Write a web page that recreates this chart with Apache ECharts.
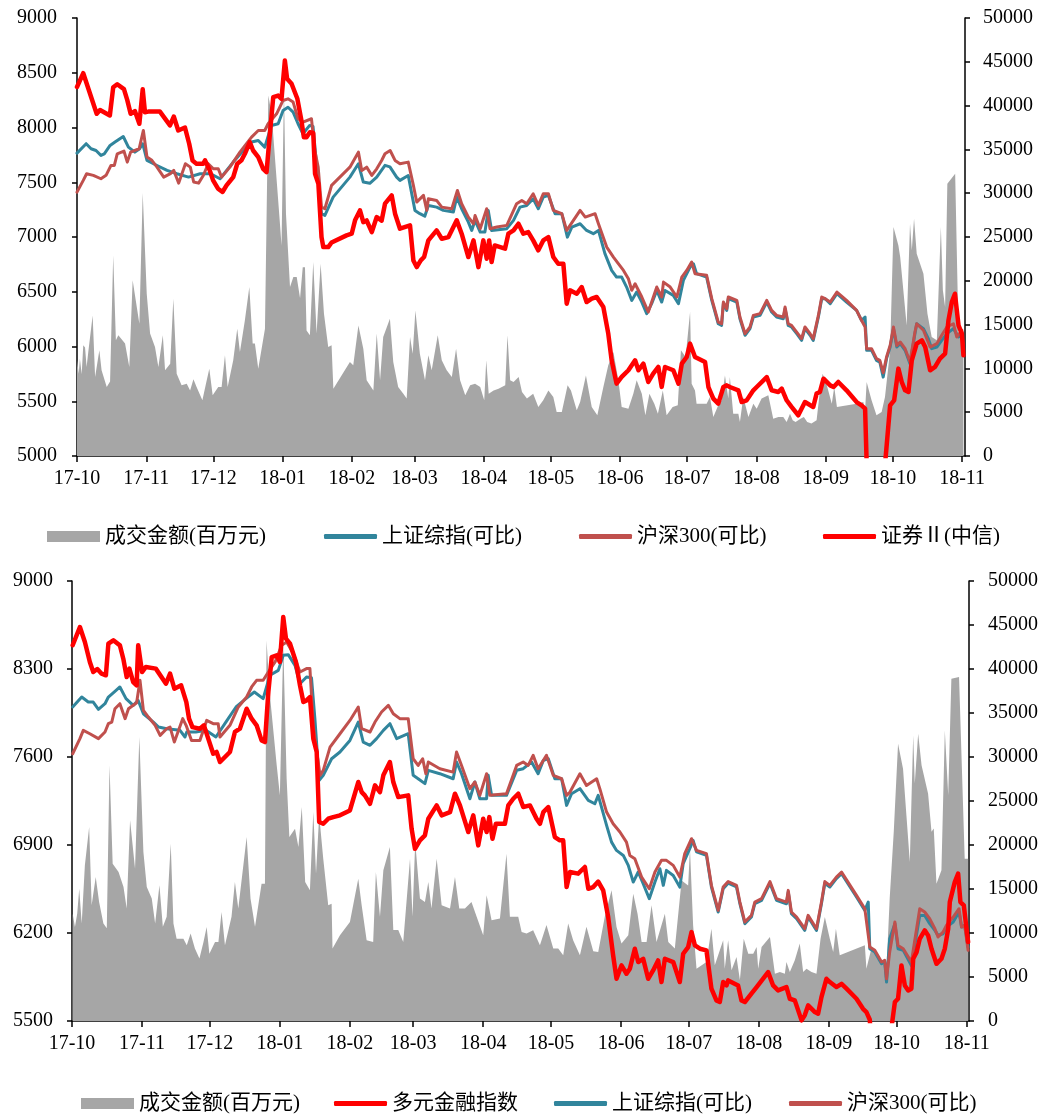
<!DOCTYPE html>
<html><head><meta charset="utf-8">
<script src="https://cdn.jsdelivr.net/npm/echarts@6/dist/echarts.min.js"></script>
<style>html,body{margin:0;padding:0;background:#fff}#c{width:1055px;height:1115px}</style>
</head><body><div id="c"></div>
<script>
// x = calendar days since 2017-10-01
const monthLabels = ['17-10','17-11','17-12','18-01','18-02','18-03','18-04','18-05','18-06','18-07','18-08','18-09','18-10','18-11'];

const topVolume = [[0,10920],[0.8,9400],[1.3,11110],[2.1,9320],[2.8,12630],[3.6,12400],[4.3,10160],[5.1,12000],[7,16050],[8.1,9010],[10,12060],[11,9780],[13.3,7870],[14.8,8500],[16.2,22900],[17.4,13200],[18.5,13770],[21.5,12830],[23.4,10160],[24.9,20050],[27.9,15110],[29.4,30010],[31.2,18530],[32.7,13970],[34.9,12440],[36.4,10160],[38.4,13770],[39.4,9780],[41.7,10540],[43.1,17960],[44.6,9400],[46.8,8070],[49.1,8260],[50.6,7490],[52.1,8760],[53.5,7870],[56.1,6360],[57.7,8260],[59.2,9970],[60.7,6930],[63.2,7870],[64.7,7870],[66.2,11490],[67.4,7870],[69.9,10920],[71.7,14540],[72.9,11870],[75.1,15480],[77.1,19280],[78.6,12830],[79.6,12830],[81.1,9970],[84.1,14540],[85.6,41160],[87.1,39000],[90.8,26520],[91.5,24000],[92.6,41730],[93.5,27660],[95.3,19280],[96.8,20420],[98.3,20420],[99.8,18000],[101,21560],[102,21560],[102.7,14340],[104.2,13770],[105.7,22140],[107.2,13970],[109,21950],[110.5,16240],[112.4,12440],[113.9,12630],[114.7,7690],[122.1,10730],[123.6,10350],[125.9,14910],[128.1,12250],[129.6,8640],[132.6,7490],[134.1,13970],[135.6,8640],[137,13580],[140,15680],[141.5,10730],[143.7,7870],[146,7110],[147.5,6550],[149,13580],[150.2,11680],[151.4,16620],[153.4,11680],[155.7,8640],[157.2,11500],[158.7,9780],[161.4,13770],[163.2,10920],[165.4,9780],[167.7,9010],[169.6,12250],[171.4,8640],[173.7,6930],[175.9,8070],[178.1,8260],[180.4,7870],[182.2,6360],[183.1,10920],[184.2,7110],[186.4,7490],[188.6,7680],[191.6,8070],[192.6,13770],[193.8,8640],[195.3,8450],[197.6,9010],[199.1,7300],[201.3,6550],[204.1,7110],[206.4,5590],[208.6,6360],[210.9,7490],[213.1,6740],[214.6,5020],[216.9,5020],[219.5,8070],[221,7490],[223.6,5210],[225.1,6160],[227.7,9200],[230.3,5590],[232.8,4640],[235.5,7870],[237.7,10350],[240,11870],[242.2,8640],[243.7,5590],[246.7,5400],[248.9,7110],[250.4,8640],[252.7,7110],[254.3,4640],[256.1,7110],[258.3,5970],[259.9,4830],[262.1,7490],[263.8,4640],[266.5,5590],[268.8,5780],[270.2,12060],[272.3,11300],[274.3,16430],[275,8260],[276.5,7490],[277.2,5970],[281.7,5970],[283.2,6740],[284.7,4450],[286.9,5780],[288.4,6360],[289.9,9200],[291.4,6550],[292.1,9010],[293.6,4830],[295.9,4830],[296.6,3880],[298.1,6740],[300.4,4450],[302.6,5970],[304.1,5400],[306.3,6550],[309.3,6930],[311.5,4260],[313.8,4450],[316,4450],[317.5,3880],[319,4830],[320.2,4070],[321.5,3880],[323.7,4260],[325.2,4450],[326.7,3880],[328.6,3700],[330.9,4070],[332.4,7490],[333.6,9400],[335.3,8260],[337.7,5970],[338.8,7870],[340,5590],[348.8,5970],[351.8,6160],[352.6,5210],[353.3,8440],[355.5,6360],[357.7,4640],[360,5020],[361.5,6740],[363.8,12060],[365.3,26130],[367.5,24040],[368.3,22710],[371.2,14910],[372.7,26520],[373.5,23500],[374.5,27090],[375.7,23090],[378.7,20810],[380.5,16240],[382.4,13580],[384.7,13200],[386.5,26130],[387.4,18910],[388.4,17000],[389.4,31080],[392.9,32220],[394.4,13970],[395.9,13970],[396.6,12440]];

const topSse = [[0,7766],[4.1,7852],[6.3,7806],[8.5,7790],[10.7,7745],[12.2,7760],[14.8,7836],[17,7867],[20.7,7918],[23,7821],[25.9,7775],[28,7806],[29.4,7852],[31.3,7699],[35.8,7653],[40.3,7608],[44.7,7578],[49.9,7547],[55.1,7578],[59.6,7578],[64,7532],[69.9,7684],[74.4,7790],[78.1,7867],[81.1,7882],[84,7821],[87,8019],[90,8034],[92.2,8155],[94.4,8185],[96.7,8140],[98.9,8034],[101.1,7943],[104.1,8019],[105.6,8010],[107,7699],[109.4,7213],[110.9,7198],[114.6,7364],[122.1,7547],[125.9,7669],[128.1,7502],[131,7490],[134.1,7547],[135.6,7590],[137.8,7654],[140,7640],[143,7547],[144.5,7517],[148.2,7562],[151.2,7243],[153.4,7213],[155.6,7190],[157.2,7288],[160.9,7273],[163.9,7243],[168.4,7228],[169.9,7364],[172.1,7258],[175.1,7136],[176.6,7060],[178.1,7152],[180.4,7045],[182.5,7045],[184,7243],[185.5,7060],[192.3,7076],[195.3,7152],[198.2,7273],[201.2,7288],[204.1,7349],[206.4,7258],[208.6,7364],[210.9,7380],[213.9,7213],[216.9,7213],[219.4,6999],[221.4,7091],[225.1,7121],[228,7060],[231,7030],[233.3,7060],[236.2,6848],[239.2,6695],[241.4,6634],[243.7,6634],[245.9,6543],[248.2,6421],[250.4,6497],[252.7,6406],[254.9,6300],[257.1,6391],[259.4,6512],[261.6,6406],[263.1,6512],[266.8,6467],[269.1,6391],[271.3,6604],[274.3,6725],[275.8,6756],[277.2,6665],[281.7,6634],[284,6421],[286.9,6208],[288.4,6193],[289.2,6391],[290.7,6330],[291.4,6437],[295.2,6406],[296.6,6254],[298.9,6102],[301.1,6163],[302.6,6269],[305.6,6284],[308.6,6406],[310.8,6315],[313,6269],[316,6254],[316.8,6345],[318.2,6193],[319.7,6178],[322,6117],[324.2,6056],[325.7,6163],[328,6102],[329.4,6056],[331.7,6269],[333.2,6437],[334.7,6437],[337,6391],[340,6482],[344.3,6406],[348.8,6330],[351,6239],[352.6,6269],[353.3,5965],[355.5,5965],[357.7,5874],[359.2,5858],[360.7,5721],[362.2,5889],[363.8,5995],[365.3,6163],[366.8,5995],[368.3,6026],[370.5,5965],[372.7,5843],[374.9,6117],[375.7,6208],[378.7,6163],[380.9,6072],[382.4,5980],[384.7,5995],[386.9,6056],[389.2,6117],[392.1,6163],[394.4,6087],[395.9,6102],[396.6,5965]];

const topHs300 = [[0,7410],[2.8,7517],[4.3,7578],[7.3,7563],[10.7,7532],[13,7563],[15.2,7654],[16.7,7654],[18,7760],[21,7785],[22.5,7684],[24,7775],[27.8,7806],[29.7,7973],[31.3,7730],[33.5,7700],[35.8,7638],[38.8,7547],[41.8,7578],[43.3,7608],[45.5,7492],[48.5,7669],[50.7,7638],[52.2,7502],[54.4,7492],[56.5,7562],[58.7,7669],[61,7623],[63.2,7623],[64.7,7547],[68.4,7638],[72.9,7775],[78.1,7912],[81.1,7973],[84,7973],[85.5,8034],[89.3,8125],[92.2,8247],[94.4,8262],[96.7,8232],[98.9,8080],[101.1,8049],[104.9,8080],[106.4,7790],[107.9,7638],[109.4,7273],[110.9,7258],[113.9,7471],[122.1,7638],[125.9,7775],[127.4,7608],[129.6,7638],[131.9,7562],[134.1,7623],[136.3,7699],[137.8,7760],[140.1,7790],[142.3,7699],[144.5,7669],[148.2,7684],[150.5,7471],[152,7319],[155,7380],[156.5,7243],[157.2,7349],[160.9,7334],[163.2,7273],[167.7,7258],[170.2,7425],[172.1,7304],[175.1,7182],[177.4,7121],[178.1,7197],[180.4,7076],[183.3,7258],[184.8,7076],[187.8,7091],[192.3,7106],[196.7,7304],[199,7334],[201.2,7304],[204.1,7395],[206.4,7288],[208.6,7395],[210.9,7395],[213.1,7243],[216.9,7213],[219.1,7060],[220.6,7106],[225.1,7243],[227.4,7182],[231.8,7213],[233.3,7121],[237,6908],[240,6817],[242.2,6756],[244.5,6695],[246.7,6619],[248.2,6513],[249.7,6573],[252.7,6452],[255.6,6315],[259.4,6543],[261.6,6452],[262.4,6588],[265.4,6543],[268.4,6452],[270.6,6634],[272.8,6695],[275,6771],[276.5,6665],[281.7,6650],[284,6437],[286.9,6223],[288.4,6208],[289.2,6406],[290.7,6345],[291.4,6452],[295.2,6421],[296.6,6269],[298.9,6117],[301.1,6178],[302.6,6284],[305.6,6300],[308.6,6421],[310.8,6330],[313,6284],[316,6269],[316.8,6360],[318.2,6208],[319.7,6193],[322,6132],[324.2,6072],[325.7,6178],[328,6117],[329.4,6072],[331.7,6284],[333.2,6452],[334.7,6437],[337,6406],[340,6497],[344.3,6421],[348.8,6330],[351,6239],[352.6,6178],[353.3,5980],[355.5,5980],[357.7,5889],[359.2,5874],[360.7,5760],[362.2,5904],[363.8,6010],[365.3,6178],[366.8,6010],[368.3,6041],[370.5,5980],[372.7,5858],[374.9,6132],[375.7,6208],[378.7,6148],[381.7,5995],[384.7,6026],[386.9,6102],[389.2,6178],[392.1,6208],[393.6,6087],[395.9,6148],[396.6,5965]];

const topSecurities = [[0,8370],[2.8,8496],[8.8,8125],[10.3,8160],[14.7,8110],[16.2,8368],[18,8395],[21,8350],[22.5,8250],[24,8125],[25.9,8150],[27.9,8034],[29.4,8350],[30.4,8140],[31.9,8145],[37.1,8145],[41.6,8019],[43.3,8100],[45.3,7973],[48.3,8000],[50.2,7852],[51.7,7699],[53.5,7668],[56.5,7670],[57.3,7700],[59.4,7608],[60.9,7517],[63.1,7441],[65.1,7411],[66.9,7472],[69.9,7547],[71.7,7669],[73.6,7700],[75.1,7760],[77.3,7866],[78.8,7790],[81.1,7730],[83.3,7623],[84.8,7593],[86.3,7943],[87.8,8277],[90,8292],[91.5,8262],[93,8612],[94,8445],[96,8400],[98.6,8262],[100.4,8064],[101.5,7912],[102.7,7912],[104.2,7957],[105.7,7950],[106.5,7578],[108,7486],[109.4,6999],[110.2,6908],[112.4,6908],[113.9,6950],[120.6,7015],[122.9,7030],[124.4,7152],[126.6,7243],[128.1,7136],[129.6,7151],[131.9,7045],[134.1,7182],[136.3,7150],[137.8,7304],[140.8,7380],[142.3,7213],[144.5,7076],[149,7106],[150.5,6786],[152,6725],[153.8,6786],[155.3,6817],[157.2,6969],[160.9,7060],[163.2,6984],[166.2,6999],[169.9,7152],[172.1,7030],[175.1,6817],[177.4,6969],[179.6,6725],[181.8,6969],[183.3,6802],[184.4,6969],[185.5,6771],[186.9,6923],[191.5,6893],[193,7030],[195.3,7060],[197.5,7121],[199.7,7030],[201.9,7045],[204.1,6969],[206.4,6878],[208.6,6969],[210.9,6999],[213.1,6817],[215.3,6756],[217.6,6756],[219.1,6391],[220.6,6513],[223.6,6482],[225.8,6543],[228,6406],[230.3,6437],[232.5,6452],[235.5,6360],[237.7,6117],[239.2,5874],[241.4,5661],[243.7,5722],[246.7,5783],[249.7,5874],[251.2,5783],[253.4,5843],[255.6,5676],[257.8,5752],[260.1,5813],[261.6,5631],[263.1,5813],[266.8,5783],[269.1,5661],[270.6,5843],[272.8,5904],[274.3,6026],[276.5,5904],[281,5858],[282.5,5630],[284.7,5524],[286.9,5478],[289.2,5630],[290.7,5645],[292.1,5630],[295.9,5600],[297.4,5493],[299.6,5508],[302.6,5600],[304.1,5630],[308.6,5721],[310.8,5600],[313.8,5585],[315.3,5615],[317.5,5509],[319.7,5448],[322.7,5372],[325.7,5493],[329.4,5448],[330.9,5570],[332.4,5585],[334,5706],[337,5645],[338.5,5630],[340.6,5676],[344.3,5600],[348.8,5493],[351,5463],[352.6,5433],[353.5,4800],[361,4800],[363.8,5463],[365.6,5508],[367.5,5798],[369,5676],[370.5,5600],[372,5585],[373.5,5874],[375.7,6026],[378,6056],[379.5,5995],[381.7,5783],[383.9,5813],[386.1,5889],[388.4,5935],[389.9,6239],[391.4,6406],[392.8,6482],[394.4,6193],[395.9,6117],[396.6,5919]];

const botVolume = [[0.3,12200],[1.3,10690],[2.3,12200],[3.2,15040],[4.3,11090],[5.7,17690],[7.6,22040],[8.7,13140],[10.5,16360],[12,13530],[13.9,11090],[15.4,10530],[16.6,29050],[18,17880],[20.6,16940],[22.8,15230],[24.2,12770],[25.7,22800],[27.9,17310],[29.8,32260],[31.6,19200],[33.1,15230],[35.3,13910],[36.8,11090],[38.7,15420],[40.2,10720],[41.9,11840],[43.7,20150],[44.9,11090],[46.3,9360],[49.3,9360],[50.8,8610],[52.5,9930],[54.4,8230],[56.4,7090],[58.2,8980],[59.6,10690],[60.8,7650],[63.3,8980],[64.8,8980],[66.2,12390],[67.7,8610],[70.6,11840],[72.1,15790],[73.6,12770],[77.3,20900],[79,13910],[81,10720],[83.9,15610],[85.4,15610],[86.1,43250],[87.6,37000],[90.6,29050],[92,25640],[93.5,42870],[95,27540],[96.2,20900],[98.7,21860],[100.2,19770],[101.7,24310],[103.2,15790],[105.3,14850],[106.8,23740],[108,16740],[109.4,23370],[111.2,18450],[113.4,13140],[114.9,13330],[115.3,8230],[118.6,9740],[123,11250],[126.7,16170],[128.2,13140],[130.4,9170],[133.3,8980],[134.5,16930],[136.3,11840],[137.8,17120],[140.7,19770],[142.2,10340],[144.4,10340],[146.6,8980],[149.6,18450],[150.7,11840],[151.9,20340],[154,13910],[156.2,13530],[157.7,15790],[159.1,12770],[161.4,18450],[163.6,13140],[167.3,12770],[169.5,16360],[171.4,12770],[173.9,12770],[176.8,13530],[179.1,11840],[182,9740],[183.5,14290],[185.7,11460],[189.4,11650],[192.3,19010],[193.8,11840],[197.5,11840],[199,10120],[201.2,9930],[204.1,10310],[207.1,8610],[210,10910],[213,8230],[215.2,8230],[217.4,7460],[219.6,11090],[221.8,9170],[224.8,7460],[227.7,10720],[230.7,7940],[232.9,7840],[235.8,11840],[238.8,14850],[241,10690],[243.2,8800],[246.2,9740],[248.4,14470],[250.3,12200],[252.1,8980],[254.3,8980],[256.5,13140],[258.7,8980],[262.4,12200],[263.9,8980],[266.8,8230],[269.8,15980],[272.7,15410],[273.5,19580],[274.9,10870],[276.4,5950],[280.8,6710],[283,10490],[284.5,6330],[288.2,9170],[288.9,5950],[290.4,9170],[291.9,5760],[294.1,7270],[295.6,4660],[297.3,9360],[299.3,7650],[301.5,7650],[303,8420],[303.7,5950],[305.2,8420],[308.9,9550],[311.1,5380],[313.3,5570],[315.5,5380],[316.2,6710],[317.7,5570],[319.9,6900],[322.1,8800],[323.6,5570],[325.1,5950],[327.3,5570],[329.5,5380],[331.3,9360],[333.2,11820],[335.4,9360],[336.9,7840],[338.1,10490],[339.8,7460],[350.9,8610],[351.6,5950],[353.8,8230],[357.5,7080],[360.5,5950],[361.9,13930],[363.7,21500],[365.6,31510],[367.8,28670],[369.3,23370],[370.8,18060],[372.3,32450],[373,27000],[374.5,32640],[376,29050],[378.9,25830],[380.4,21500],[381.4,21870],[382.6,15610],[384.8,17120],[386.3,33020],[387.8,25640],[389.2,38900],[392.6,39090],[395.1,18450],[396.6,18450]];

const botSse = [[0.3,7998],[4.3,8077],[7.2,8037],[9.4,8037],[11.7,7979],[14.6,8024],[16.1,8077],[19,8122],[21.2,8157],[23.9,8064],[27.1,8011],[29.3,8050],[31.6,7944],[36,7878],[38.3,7838],[41.9,7825],[47.8,7812],[50,7759],[50.8,7799],[54.8,7799],[59.3,7812],[63.7,7759],[68.1,7878],[72.6,7998],[77,8064],[80.7,8117],[84.6,8064],[87.6,8250],[91.3,8289],[93.5,8409],[95.7,8414],[98.7,8329],[100.9,8183],[103.8,8236],[106,8230],[107.5,7905],[109.4,7414],[111.2,7454],[114.9,7586],[118.6,7640],[123,7732],[126.7,7878],[128.9,7719],[131.9,7693],[134.8,7746],[137.8,7812],[140.7,7865],[143.7,7746],[148.8,7785],[151,7454],[153.2,7427],[156.2,7388],[157.7,7494],[162.8,7467],[168.7,7427],[170.2,7560],[172.4,7467],[176.1,7268],[178.3,7401],[180.5,7268],[183.5,7268],[184.2,7454],[185.7,7295],[192.3,7295],[196.8,7494],[199.7,7507],[203.4,7560],[206.3,7467],[208.6,7573],[210.8,7586],[213.7,7427],[216.7,7427],[218.9,7215],[221.1,7308],[224.8,7348],[228.5,7255],[231.4,7228],[232.9,7295],[236.6,7056],[238.8,6923],[241,6857],[244,6817],[246.2,6738],[248.4,6605],[250.6,6685],[252.8,6592],[255.5,6473],[258,6605],[260.2,6711],[261.7,6579],[263.1,6698],[266.1,6658],[269,6565],[270.5,6751],[273.4,6870],[274.9,6937],[276.4,6845],[280.8,6818],[283,6566],[286,6367],[288.2,6552],[290.4,6596],[294.1,6566],[295.6,6433],[297.8,6274],[300.7,6327],[302.2,6433],[305.2,6460],[308.9,6596],[311.8,6460],[316.2,6433],[317,6526],[318.4,6354],[320.7,6314],[324.3,6221],[325.8,6327],[329.5,6221],[331.7,6433],[333.2,6596],[335.4,6566],[338.3,6632],[340.6,6672],[347.2,6486],[350.9,6380],[352.4,6446],[353.1,6075],[355.3,6049],[358.3,5956],[359.7,5969],[360.5,5810],[361.9,6154],[364.2,6274],[365.6,6075],[367.9,6062],[371.5,5942],[375.2,6340],[377.4,6340],[379.6,6274],[381.9,6221],[383.3,6181],[385.5,6194],[387,6247],[390,6287],[392.6,6367],[393.7,6247],[395.1,6260],[396.6,6088]];

const botHs300 = [[0.3,7626],[3.5,7746],[5,7812],[7.9,7785],[11.7,7746],[14.6,7799],[16.1,7865],[17.6,7878],[19,7984],[21.2,8024],[23.5,7905],[25,7984],[28.6,8032],[30.1,8210],[31.6,7971],[33.8,7918],[36.8,7852],[39,7772],[41.9,7825],[43.4,7838],[45.3,7719],[49,7905],[50.5,7852],[52.9,7732],[56.6,7732],[59.6,7891],[62.5,7865],[64.7,7865],[65.5,7759],[69.9,7852],[73.6,7998],[77.3,8077],[79.5,8157],[81.7,8210],[84.6,8210],[86.9,8276],[89.9,8356],[92.8,8488],[95,8515],[98,8422],[100.9,8276],[103.8,8303],[105.3,8303],[106.8,7852],[108.3,7640],[109.8,7454],[111.2,7494],[114.2,7679],[118.6,7785],[123,7891],[126.7,7998],[128.2,7825],[131.9,7799],[134.1,7878],[137,7958],[140,8011],[142.2,7944],[145.1,7905],[148.8,7905],[151,7586],[153.2,7533],[155.2,7586],[156.6,7467],[157.7,7560],[162.8,7507],[168.7,7480],[170.2,7640],[172.4,7533],[176.1,7348],[178.3,7401],[180.5,7295],[183.5,7467],[184.9,7295],[192.3,7308],[196.8,7533],[199.7,7560],[201.9,7533],[204.1,7613],[206.3,7507],[210,7613],[213,7454],[216.7,7427],[218.9,7295],[220.4,7321],[224.8,7467],[227.7,7374],[232.2,7427],[233.6,7348],[236.6,7162],[239.5,7069],[242.5,7003],[245.4,6923],[246.9,6817],[249.1,6791],[252.1,6645],[255.5,6552],[258,6685],[260.9,6778],[263.1,6778],[266.1,6738],[269,6645],[271.2,6831],[274.2,6950],[276.4,6857],[280.8,6831],[283,6579],[286,6380],[288.2,6565],[290.4,6609],[294.1,6579],[295.6,6446],[297.8,6287],[300.7,6340],[302.2,6446],[305.2,6473],[308.9,6609],[311.8,6473],[316.2,6446],[317,6539],[318.4,6367],[320.7,6327],[324.3,6234],[325.8,6340],[329.5,6234],[331.7,6446],[333.2,6609],[335.4,6579],[338.3,6645],[340.6,6685],[347.2,6499],[350.9,6393],[353.1,6088],[355.3,6062],[358.3,5969],[359.7,5982],[360.5,5836],[361.9,6048],[364.2,6287],[365.6,6101],[367.9,6075],[371.5,5969],[375.2,6393],[377.4,6367],[379.6,6314],[381.9,6234],[383.3,6168],[385.5,6207],[387,6260],[390,6327],[392.6,6393],[393.7,6247],[395.1,6260],[396.6,6062]];

const botDiversified = [[0.3,8489],[3.5,8634],[5.7,8515],[7.9,8356],[9.4,8276],[11.2,8300],[13.1,8263],[15,8250],[16.1,8501],[18.3,8528],[21.2,8488],[22.7,8382],[24.2,8236],[25.4,8303],[27.1,8196],[28.6,8170],[29.3,8488],[30.1,8475],[31,8276],[32.7,8316],[37.1,8303],[41.6,8183],[43.4,8263],[45.3,8143],[48.3,8170],[50.6,8037],[51.8,7905],[53.3,7838],[56.6,7825],[58.4,7852],[60.3,7746],[62.5,7626],[64,7640],[65.5,7560],[69.9,7640],[72.1,7799],[74.3,7825],[77.3,7984],[79.5,7905],[81.7,7852],[83.9,7732],[85.4,7719],[86.9,8117],[88.4,8395],[90.6,8409],[92,8356],[93.5,8714],[94.7,8541],[96.5,8501],[99.1,8356],[100.9,8170],[102.4,8037],[103.8,8050],[105.3,8077],[106.8,7746],[108.3,7640],[109.4,7083],[111.2,7069],[113.4,7109],[115.6,7122],[118.6,7136],[123,7175],[126.7,7401],[128.2,7321],[129.6,7295],[131.9,7228],[134.1,7374],[136.3,7321],[137.8,7454],[140.7,7560],[142.2,7401],[144.4,7281],[148.8,7295],[150.3,7030],[151.8,6870],[154,6937],[156.2,6977],[157.7,7109],[161.4,7215],[163.6,7136],[167.3,7162],[169.5,7308],[171.7,7215],[175.4,7003],[177.6,7136],[179.8,6897],[182,7109],[183.5,7003],[184.7,7122],[186.1,6950],[187.6,7069],[191.6,7069],[193.1,7215],[195.3,7268],[197.5,7308],[199.7,7202],[202.7,7215],[205.6,7109],[207.1,7069],[208.6,7162],[210.8,7202],[213.7,6963],[215.9,6937],[217.4,6937],[218.9,6565],[220.4,6685],[224,6672],[227,6725],[228.5,6552],[230.7,6565],[232.9,6609],[235.1,6539],[237.3,6327],[239.5,6022],[241,5836],[243.2,5942],[245.4,5876],[246.9,5916],[249.1,6075],[250.6,5969],[252.8,5995],[255,5836],[257.2,5902],[259.4,5982],[260.9,5810],[262.4,5995],[266.1,5969],[269,5810],[270.5,6035],[272.7,6088],[274.2,6207],[275.7,6101],[277.9,6075],[280.8,6062],[283,5757],[285.2,5664],[286.7,5651],[288.2,5810],[289.7,5783],[290.4,5823],[294.8,5783],[296.3,5664],[297.8,5651],[300.7,5717],[303,5770],[308.1,5889],[310.3,5783],[312.5,5743],[316.2,5770],[317.7,5677],[319.9,5664],[322.9,5505],[324.3,5545],[325.8,5624],[328.8,5571],[330.2,5558],[331.7,5690],[333.9,5836],[335.4,5810],[338.3,5770],[340.6,5796],[342.8,5757],[347.2,5677],[350.1,5597],[351.6,5571],[352.4,5558],[353.1,5510],[353.8,5300],[361.6,5300],[364.2,5651],[365.6,5677],[367.1,5942],[368.6,5783],[370.1,5743],[371.5,5757],[372.3,5995],[373.8,6048],[375.2,6154],[377.4,6221],[378.9,6181],[380.4,6075],[382.6,5955],[384.8,5995],[386.3,6075],[387.8,6234],[388.5,6446],[390.7,6605],[392.2,6672],[393.2,6446],[394.7,6420],[395.9,6234],[396.6,6128]];

const BASE = Date.UTC(2017, 9, 1);
const tickDays = monthLabels.map(s => { const p = s.split('-').map(Number); return Math.round((Date.UTC(2000 + p[0], p[1] - 1, 1) - BASE) / 86400000); });

const FONT = "'Liberation Serif','Noto Sans CJK SC',serif";
const GRAY = '#A6A6A6', BLUE = '#31859C', PINK = '#C0504D', RED = '#FF0000';

function xAx(grid, max) {
  return {
    type: 'value', gridIndex: grid, min: 0, max: max,
    axisLine: { show: true, onZero: false, lineStyle: { color: '#000', width: 1.5 } },
    axisTick: { show: true, customValues: tickDays, length: 6, lineStyle: { color: '#000', width: 1.5 } },
    axisLabel: { show: true, customValues: tickDays, color: '#000', fontSize: 20, fontFamily: FONT, margin: 13,
      formatter: v => { const i = tickDays.indexOf(Math.round(v)); return i < 0 ? '' : monthLabels[i]; } },
    splitLine: { show: false }
  };
}
function yAx(grid, pos, min, max, interval, margin) {
  return {
    type: 'value', gridIndex: grid, position: pos, min, max, interval,
    axisLine: { show: true, lineStyle: { color: '#000', width: 1.5 } },
    axisTick: { show: true, length: 5, lineStyle: { color: '#000', width: 1.5 } },
    axisLabel: { color: '#000', fontSize: 20, fontFamily: FONT, margin, formatter: v => String(v) },
    splitLine: { show: false }
  };
}
function area(name, data, grid) {
  return { name, type: 'line', xAxisIndex: grid, yAxisIndex: grid * 2 + 1, data, symbol: 'none', showSymbol: false,
    color: GRAY, itemStyle: { color: GRAY }, lineStyle: { width: 0, color: GRAY },
    areaStyle: { color: GRAY, opacity: 1 }, z: 1, silent: true };
}
function line(name, data, grid, color, width, z) {
  return { name, type: 'line', xAxisIndex: grid, yAxisIndex: grid * 2, data, symbol: 'none', showSymbol: false,
    color, itemStyle: { color }, lineStyle: { color, width, join: 'round', cap: 'round' }, z, clip: true, silent: true };
}
function leg(name, left, top, icon, h) {
  return { data: [name], left, top, icon, itemWidth: 53, itemHeight: h, padding: 0, selectedMode: false,
    textStyle: { fontSize: 21, fontFamily: FONT, color: '#000' } };
}

const chart = echarts.init(document.getElementById('c'), null, { renderer: 'canvas' });
chart.setOption({
  animation: false,
  backgroundColor: '#fff',
  grid: [
    { left: 77, right: 90, top: 18, height: 438 },
    { left: 72, right: 86, top: 581, height: 440 }
  ],
  xAxis: [xAx(0, 397.3), xAx(1, 397)],
  yAxis: [
    yAx(0, 'left', 5000, 9000, 500, 20),
    yAx(0, 'right', 0, 50000, 5000, 18),
    yAx(1, 'left', 5500, 9000, 700, 19),
    yAx(1, 'right', 0, 50000, 5000, 19)
  ],
  legend: [
    leg('成交金额(百万元)', 47, 526, 'rect', 11),
    leg('上证综指(可比)', 324, 526, 'roundRect', 5),
    leg('沪深300(可比)', 579, 526, 'roundRect', 5),
    leg('证券Ⅱ(中信)', 823, 526, 'roundRect', 5),
    leg('成交金额(百万元)', 81, 1093, 'rect', 11),
    leg('多元金融指数', 334, 1093, 'roundRect', 5),
    leg('上证综指(可比)', 554, 1093, 'roundRect', 5),
    leg('沪深300(可比)', 789, 1093, 'roundRect', 5)
  ],
  series: [
    area('成交金额(百万元)', topVolume, 0),
    line('上证综指(可比)', topSse, 0, BLUE, 3, 3),
    line('沪深300(可比)', topHs300, 0, PINK, 3, 4),
    line('证券Ⅱ(中信)', topSecurities, 0, RED, 4.5, 5),
    area('成交金额(百万元)', botVolume, 1),
    line('上证综指(可比)', botSse, 1, BLUE, 3, 3),
    line('沪深300(可比)', botHs300, 1, PINK, 3, 4),
    line('多元金融指数', botDiversified, 1, RED, 4.5, 5)
  ]
});
</script>
</body></html>
